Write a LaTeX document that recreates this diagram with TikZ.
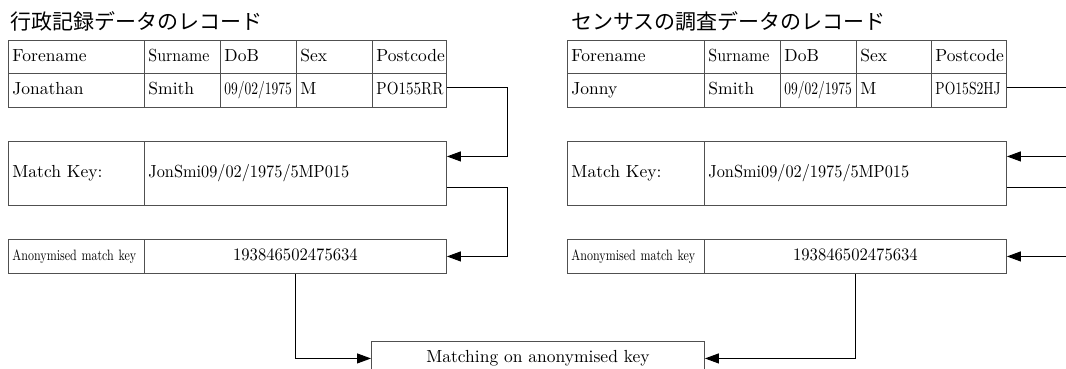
\documentclass[tikz,border=0pt]{standalone}
\usepackage{fontspec}
\usepackage{graphicx}
\setmainfont{lmroman10-regular}[Extension=.otf]
\newfontfamily\jpfont{Noto Sans CJK JP}
\usetikzlibrary{arrows.meta}
\definecolor{frame}{RGB}{80,80,80}

\tikzset{
  cell/.style={draw=frame, line width=0.9pt, rectangle, anchor=north west,
    inner xsep=4pt, inner ysep=0pt, align=left,
    font=\fontsize{17.5}{20}\selectfont, text height=12.5pt, text depth=4pt,
    minimum height=33.5pt},
  keycell/.style={cell, minimum height=64pt},
  anoncell/.style={cell, minimum height=34pt},
  title/.style={anchor=west, inner sep=0pt, font=\jpfont\fontsize{21}{24}\selectfont},
  conn/.style={draw=black, line width=1pt},
  arr/.style={conn, -{Triangle[length=14pt,width=10pt]}},
}

\newcommand{\squeeze}[2]{\scalebox{#1}[1]{#2}}

\begin{document}
\begin{tikzpicture}[x=1pt,y=-1pt]
\useasboundingbox (0,0) rectangle (1066,369);
\clip (0,0) rectangle (1066,369);

% ---- administrative record ----
\node[title] (L-title) at (10,21) {行政記録データのレコード};

\node[cell, text width=128pt] (L-h1) at (8,40)   {Forename};
\node[cell, text width=68pt]  (L-h2) at (144,40) {\squeeze{0.91}{Surname}};
\node[cell, text width=68pt]  (L-h3) at (220,40) {DoB};
\node[cell, text width=68pt]  (L-h4) at (296,40) {Sex};
\node[cell, text width=66pt]  (L-h5) at (372,40) {Postcode};

\node[cell, text width=128pt] (L-r1) at (8,73.5)   {Jonathan};
\node[cell, text width=68pt]  (L-r2) at (144,73.5) {Smith};
\node[cell, text width=68pt]  (L-r3) at (220,73.5) {\squeeze{0.77}{09/02/1975}};
\node[cell, text width=68pt]  (L-r4) at (296,73.5) {M};
\node[cell, text width=66pt]  (L-r5) at (372,73.5) {\squeeze{0.865}{PO155RR}};

\node[keycell, text width=128pt] (L-mkl) at (8,141)   {Match Key:};
\node[keycell, text width=294pt] (L-mkv) at (144,141) {\squeeze{0.93}{JonSmi09/02/1975/5MP015}};

\node[anoncell, text width=128pt] (L-anl) at (8,239)
  {\fontsize{15}{17}\selectfont\squeeze{0.8}{Anonymised match key}};
\node[anoncell, text width=294pt, align=center] (L-anv) at (144,239)
  {\squeeze{0.95}{193846502475634}};

% ---- census record ----
\begin{scope}[xshift=559pt]
\node[title] (R-title) at (12,21) {センサスの調査データのレコード};

\node[cell, text width=129pt] (R-h1) at (8,40)   {Forename};
\node[cell, text width=68pt]  (R-h2) at (145,40) {\squeeze{0.91}{Surname}};
\node[cell, text width=68pt]  (R-h3) at (221,40) {DoB};
\node[cell, text width=67pt]  (R-h4) at (297,40) {Sex};
\node[cell, text width=67pt]  (R-h5) at (372,40) {Postcode};

\node[cell, text width=129pt] (R-r1) at (8,73.5)   {Jonny};
\node[cell, text width=68pt]  (R-r2) at (145,73.5) {Smith};
\node[cell, text width=68pt]  (R-r3) at (221,73.5) {\squeeze{0.77}{09/02/1975}};
\node[cell, text width=67pt]  (R-r4) at (297,73.5) {M};
\node[cell, text width=67pt]  (R-r5) at (372,73.5) {\squeeze{0.78}{PO15S2HJ}};

\node[keycell, text width=129pt] (R-mkl) at (8,141)   {Match Key:};
\node[keycell, text width=294pt] (R-mkv) at (145,141) {\squeeze{0.93}{JonSmi09/02/1975/5MP015}};

\node[anoncell, text width=129pt] (R-anl) at (8,239)
  {\fontsize{15}{17}\selectfont\squeeze{0.8}{Anonymised match key}};
\node[anoncell, text width=294pt, align=center] (R-anv) at (145,239)
  {\squeeze{0.95}{193846502475634}};
\end{scope}

% ---- matching step ----
\node[cell, text width=325pt, align=center, minimum height=34pt] (M) at (371,341)
  {Matching on anonymised key};

% ---- connectors, administrative side ----
\draw[arr] ([yshift=3pt]L-r5.east) -- ++(61,0) |- ([yshift=17pt]L-mkv.east);
\draw[arr] ([yshift=-14pt]L-mkv.east) -- ++(61,0) |- (L-anv.east);
\draw[arr] (L-anv.south) |- (M.west);

% ---- connectors, census side ----
\coordinate (R-e1) at ([xshift=70pt,yshift=3pt]R-r5.east);
\coordinate (R-e2) at ([xshift=70pt,yshift=17pt]R-mkv.east);
\coordinate (R-e3) at ([xshift=70pt,yshift=-14pt]R-mkv.east);
\coordinate (R-e4) at ([xshift=70pt]R-anv.east);
\draw[conn] ([yshift=3pt]R-r5.east) -- (R-e1);
\draw[arr] (R-e2) -- ([yshift=17pt]R-mkv.east);
\draw[conn] ([yshift=-14pt]R-mkv.east) -- (R-e3);
\draw[arr] (R-e4) -- (R-anv.east);
\draw[arr] (R-anv.south) |- (M.east);
\end{tikzpicture}
\end{document}
